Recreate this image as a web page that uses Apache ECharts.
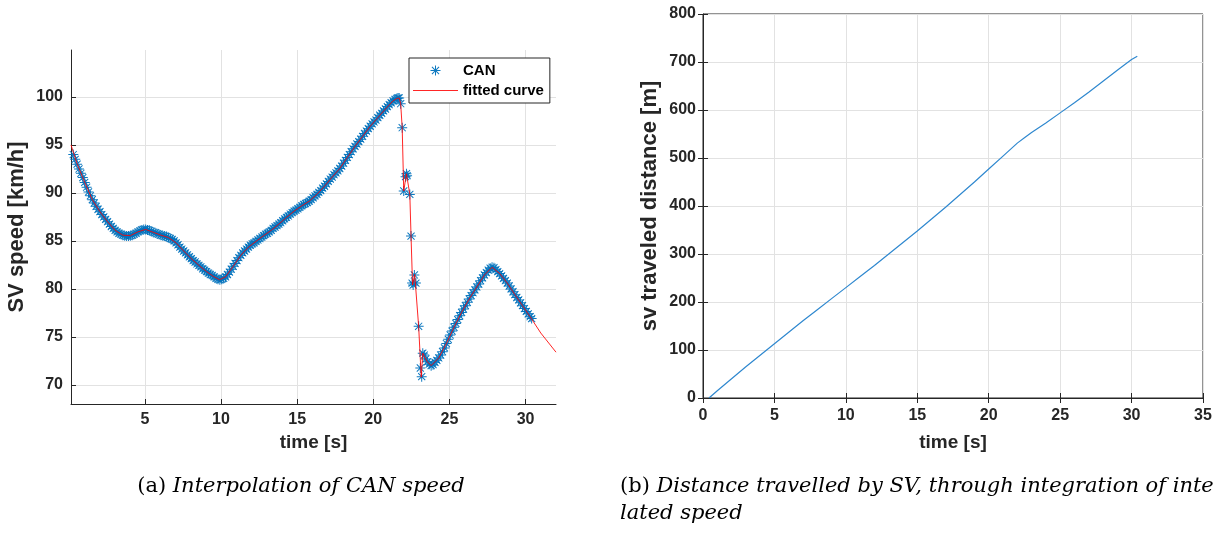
<!DOCTYPE html>
<html><head><meta charset="utf-8">
<script src="https://cdn.jsdelivr.net/npm/echarts@6/dist/echarts.min.js"></script>
<style>html,body{margin:0;padding:0;background:#fff}#c{width:1218px;height:534px}</style>
</head><body><div id="c"></div>
<script>
// ---- Left chart: CAN speed samples ----
const canTime = [0.3,0.55,0.8,1.05,1.3,1.55,1.8,2.05,2.3,2.55,2.8,3.05,3.3,3.55,3.8,4.05,4.3,4.55,4.8,5.05,5.3,5.55,5.8,6.05,6.3,6.55,6.8,7.05,7.3,7.55,7.8,8.05,8.3,8.55,8.8,9.05,9.3,9.55,9.8,10.05,10.3,10.55,10.8,11.05,11.3,11.55,11.8,12.05,12.3,12.55,12.8,13.05,13.3,13.55,13.8,14.05,14.3,14.55,14.8,15.05,15.3,15.55,15.8,16.05,16.3,16.55,16.8,17.05,17.3,17.55,17.8,18.05,18.3,18.55,18.8,19.05,19.3,19.55,19.8,20.05,20.3,20.55,20.8,21.05,21.3,21.55,21.7,
  21.8,21.9,22.0,22.12,22.18,22.22,22.4,22.48,22.55,22.62,22.7,22.8,22.98,23.09,23.18,23.25,
  23.35,23.55,23.8,24.05,24.3,24.55,24.8,25.05,25.3,25.55,25.8,26.05,26.3,26.55,26.8,27.05,27.3,27.55,27.8,28.05,28.3,28.55,28.8,29.05,29.3,29.55,29.8,30.05,30.3];
const canSpeed = [94.0,93.0,92.05,91.1,90.1,89.3,88.6,88.05,87.5,87.0,86.5,86.1,85.8,85.6,85.5,85.55,85.7,85.95,86.15,86.2,86.1,85.9,85.75,85.6,85.5,85.35,85.15,84.8,84.35,83.95,83.55,83.15,82.8,82.45,82.1,81.8,81.5,81.25,81.0,81.0,81.25,81.75,82.35,82.95,83.5,83.95,84.35,84.7,84.95,85.25,85.55,85.8,86.1,86.45,86.75,87.1,87.45,87.8,88.1,88.35,88.65,88.9,89.15,89.5,89.85,90.25,90.7,91.2,91.65,92.1,92.55,93.1,93.7,94.3,94.85,95.35,95.9,96.45,96.95,97.4,97.85,98.3,98.75,99.2,99.6,99.85,99.9,
  99.3,96.8,90.2,91.7,92.0,91.8,89.85,85.5,80.6,80.4,81.45,80.6,76.1,71.75,70.85,73.3,
  73.1,72.4,72.0,72.35,72.8,73.45,74.3,75.2,76.0,76.8,77.55,78.25,78.95,79.6,80.2,80.85,81.45,81.95,82.25,82.0,81.6,81.1,80.6,80.0,79.4,78.85,78.25,77.65,77.1];
// further CAN samples lying between the ones above
const canTimeMid = [0.425,0.675,0.925,1.175,1.425,1.675,1.925,2.175,2.425,2.675,2.925,3.175,3.425,3.675,3.925,4.175,4.425,4.675,4.925,5.175,5.425,5.675,5.925,6.175,6.425,6.675,6.925,7.175,7.425,7.675,7.925,8.175,8.425,8.675,8.925,9.175,9.425,9.675,9.925,10.175,10.425,10.675,10.925,11.175,11.425,11.675,11.925,12.175,12.425,12.675,12.925,13.175,13.425,13.675,13.925,14.175,14.425,14.675,14.925,15.175,15.425,15.675,15.925,16.175,16.425,16.675,16.925,17.175,17.425,17.675,17.925,18.175,18.425,18.675,18.925,19.175,19.425,19.675,19.925,20.175,20.425,20.675,20.925,21.175,21.425,21.625,
  23.45,23.675,23.925,24.175,24.425,24.675,24.925,25.175,25.425,25.675,25.925,26.175,26.425,26.675,26.925,27.175,27.425,27.675,27.925,28.175,28.425,28.675,28.925,29.175,29.425,29.675,29.925,30.175,30.4];
const canSpeedMid = [93.5,92.5,91.6,90.6,89.7,88.95,88.3,87.75,87.25,86.75,86.3,85.95,85.7,85.55,85.5,85.6,85.8,86.05,86.2,86.15,86.0,85.85,85.7,85.55,85.45,85.25,85.0,84.6,84.15,83.75,83.35,82.95,82.6,82.3,81.95,81.65,81.4,81.1,80.95,81.1,81.5,82.05,82.65,83.25,83.75,84.15,84.55,84.8,85.1,85.4,85.7,85.95,86.3,86.6,86.9,87.3,87.6,87.95,88.2,88.5,88.8,89.0,89.3,89.7,90.05,90.5,90.95,91.45,91.9,92.3,92.8,93.4,94.0,94.6,95.1,95.6,96.2,96.7,97.2,97.6,98.1,98.55,99.0,99.4,99.75,99.9,
  72.7,72.15,72.1,72.55,73.1,73.85,74.75,75.6,76.4,77.2,77.9,78.6,79.3,79.9,80.5,81.15,81.7,82.15,82.2,81.8,81.35,80.85,80.3,79.7,79.1,78.55,77.95,77.4,76.9];

// ---- Left chart: fitted curve ----
const fitTime = [0.15,0.55,1.05,1.55,2.05,2.55,3.05,3.55,4.05,4.55,5.05,5.55,6.05,6.55,7.05,7.55,8.05,8.55,9.05,9.55,9.9,10.3,10.8,11.3,11.8,12.3,12.8,13.3,13.8,14.3,14.8,15.3,15.8,16.3,16.8,17.3,17.8,18.3,18.8,19.3,19.8,20.3,20.8,21.3,21.55,21.7,21.8,21.9,22.0,22.18,22.4,22.48,22.58,22.72,22.98,23.15,23.25,23.35,23.55,23.8,24.3,24.8,25.3,25.8,26.3,26.8,27.3,27.8,28.3,28.8,29.3,29.8,30.3,31.0,32.0];
const fitSpeed = [95.0,93.05,91.1,89.3,88.05,87.0,86.1,85.6,85.55,85.95,86.2,85.9,85.6,85.35,84.8,83.95,83.15,82.45,81.8,81.25,80.95,81.25,82.35,83.5,84.35,84.95,85.55,86.1,86.75,87.45,88.1,88.65,89.15,89.85,90.7,91.65,92.55,93.7,94.85,95.9,96.95,97.85,98.75,99.6,99.85,99.9,99.3,96.8,90.2,92.0,89.85,85.5,80.4,81.5,76.1,70.8,73.3,73.1,72.4,72.0,72.8,74.3,76.0,77.55,78.95,80.2,81.45,82.25,81.6,80.6,79.4,78.25,77.1,75.4,73.4];

// ---- Right chart: travelled distance ----
const distTime = [0.42,1,2,3,4,5,6,7,8,9,10,11,12,13,14,15,16,17,18,19,20,21,22,22.5,23,24,25,26,27,28,29,30,30.4];
const distVal  = [0,15,40,65,89,113,137,161,184,207,230,253,276,300,324,348,373,398,424,450,477,504,531,542,553,573,594,615,637,660,683,705,712];

// ---- Tick labels ----
const speedXTicks = [5,10,15,20,25,30];
const speedYTicks = [70,75,80,85,90,95,100];
const distXTicks = [0,5,10,15,20,25,30,35];
const distYTicks = [0,100,200,300,400,500,600,700,800];

const AX = '#262626';
const GRID = '#e2e2e2';
const FONT = '"Liberation Sans", Arial, sans-serif';
const tickFont = {fontFamily: FONT, fontWeight: 'bold', fontSize: 16, color: AX};
const xNameFont = {fontFamily: FONT, fontWeight: 'bold', fontSize: 19, color: AX};
const yNameFont = {fontFamily: FONT, fontWeight: 'bold', fontSize: 22, color: AX};
const asterisk = 'path://M0 9 L20 9 L20 11 L0 11 Z M9 0 L11 0 L11 20 L9 20 Z M3.6 2.2 L17.8 16.4 L16.4 17.8 L2.2 3.6 Z M16.4 2.2 L17.8 3.6 L3.6 17.8 L2.2 16.4 Z';
const lineIcon = 'path://M0 0 L90 0 L90 2 L0 2 Z';

const canData = canTime.map((t, i) => [t, canSpeed[i]])
  .concat(canTimeMid.map((t, i) => [t, canSpeedMid[i]]));
const fitData = fitTime.map((t, i) => [t, fitSpeed[i]]);
const distData = distTime.map((t, i) => [t, distVal[i]]);

const chart = echarts.init(document.getElementById('c'), null, {renderer: 'canvas'});
chart.setOption({
  animation: false,
  backgroundColor: '#fff',
  grid: [
    {left: 71, top: 50, width: 485, height: 354},
    {left: 703, top: 14, width: 500, height: 384, show: true, borderColor: AX, borderWidth: 1, backgroundColor: 'transparent'}
  ],
  legend: {
    left: 409, top: 58, orient: 'vertical',
    data: [{name: 'CAN'}, {name: 'fitted curve', icon: lineIcon}],
    backgroundColor: '#fff', borderColor: AX, borderWidth: 1, borderRadius: 0,
    padding: [5, 6, 5, 4], itemGap: 5, itemWidth: 45, itemHeight: 10,
    textStyle: {fontFamily: FONT, fontWeight: 'bold', fontSize: 15, color: '#000'}
  },
  xAxis: [
    {gridIndex: 0, type: 'value', min: 0.15, max: 32, splitNumber: 6,
     name: 'time [s]', nameLocation: 'middle', nameGap: 29, nameTextStyle: xNameFont,
     axisLine: {show: true, onZero: false, lineStyle: {color: AX, width: 1}},
     axisTick: {show: true, inside: true, length: 5, lineStyle: {color: AX}, customValues: speedXTicks},
     axisLabel: {margin: 8, customValues: speedXTicks, ...tickFont},
     splitLine: {show: true, lineStyle: {color: GRID, width: 1}}},
    {gridIndex: 1, type: 'value', min: 0, max: 35, interval: 5,
     name: 'time [s]', nameLocation: 'middle', nameGap: 35, nameTextStyle: xNameFont,
     axisLine: {show: true, onZero: false, lineStyle: {color: AX, width: 1}},
     axisTick: {show: true, inside: true, length: 5, lineStyle: {color: AX}, customValues: distXTicks},
     axisLabel: {margin: 10, customValues: distXTicks, ...tickFont},
     splitLine: {show: true, lineStyle: {color: GRID, width: 1}}},
    {gridIndex: 1, type: 'value', min: 0, max: 35, interval: 5, position: 'top',
     axisLine: {show: false}, axisLabel: {show: false}, splitLine: {show: false},
     axisTick: {show: true, inside: true, length: 5, lineStyle: {color: AX}, customValues: distXTicks}}
  ],
  yAxis: [
    {gridIndex: 0, type: 'value', min: 68, max: 104.9, splitNumber: 8,
     name: 'SV speed [km/h]', nameLocation: 'middle', nameGap: 43, nameTextStyle: yNameFont,
     axisLine: {show: true, onZero: false, lineStyle: {color: AX, width: 1}},
     axisTick: {show: true, inside: true, length: 5, lineStyle: {color: AX}, customValues: speedYTicks},
     axisLabel: {margin: 8, customValues: speedYTicks, ...tickFont},
     splitLine: {show: true, lineStyle: {color: GRID, width: 1}}},
    {gridIndex: 1, type: 'value', min: 0, max: 800, interval: 100,
     name: 'sv traveled distance [m]', nameLocation: 'middle', nameGap: 42, nameTextStyle: yNameFont,
     axisLine: {show: true, onZero: false, lineStyle: {color: AX, width: 1}},
     axisTick: {show: true, inside: true, length: 5, lineStyle: {color: AX}, customValues: distYTicks},
     axisLabel: {margin: 7, customValues: distYTicks, ...tickFont},
     splitLine: {show: true, lineStyle: {color: GRID, width: 1}}},
    {gridIndex: 1, type: 'value', min: 0, max: 800, interval: 100, position: 'right',
     axisLine: {show: false}, axisLabel: {show: false}, splitLine: {show: false},
     axisTick: {show: true, inside: true, length: 5, lineStyle: {color: AX}, customValues: distYTicks}}
  ],
  series: [
    {name: 'CAN', type: 'scatter', xAxisIndex: 0, yAxisIndex: 0, data: canData,
     symbol: asterisk, symbolSize: 10, symbolKeepAspect: true,
     itemStyle: {color: '#0072BD', opacity: 0.95}, z: 2},
    {name: 'fitted curve', type: 'line', xAxisIndex: 0, yAxisIndex: 0, data: fitData,
     symbol: 'none', showSymbol: false, smooth: false, lineStyle: {color: 'rgba(255,0,0,0.85)', width: 1},
     itemStyle: {color: 'rgba(255,0,0,0.85)'}, z: 3},
    {name: 'distance', type: 'line', xAxisIndex: 1, yAxisIndex: 1, data: distData,
     symbol: 'none', smooth: false, lineStyle: {color: '#2f88cf', width: 1.2}, z: 3}
  ],
  graphic: [
    {type: 'text', x: 301, y: 487, style: {
      text: '{n|(a) }{i|Interpolation of CAN speed}', align: 'center', verticalAlign: 'middle',
      rich: {n: {fontFamily: '"DejaVu Serif", serif', fontSize: 21, fill: '#000'},
             i: {fontFamily: '"DejaVu Serif", serif', fontSize: 21, fontStyle: 'italic', fill: '#000'}}}},
    {type: 'text', x: 620, y: 487, style: {
      text: '{n|(b) }{i|Distance travelled by SV, through integration of inte}', align: 'left', verticalAlign: 'middle',
      rich: {n: {fontFamily: '"DejaVu Serif", serif', fontSize: 21, fill: '#000'},
             i: {fontFamily: '"DejaVu Serif", serif', fontSize: 21, fontStyle: 'italic', fill: '#000'}}}},
    {type: 'text', x: 620, y: 514, style: {
      text: 'lated speed', align: 'left', verticalAlign: 'middle',
      fontFamily: '"DejaVu Serif", serif', fontSize: 21, fontStyle: 'italic', fill: '#000'}}
  ]
});
</script>
</body></html>
